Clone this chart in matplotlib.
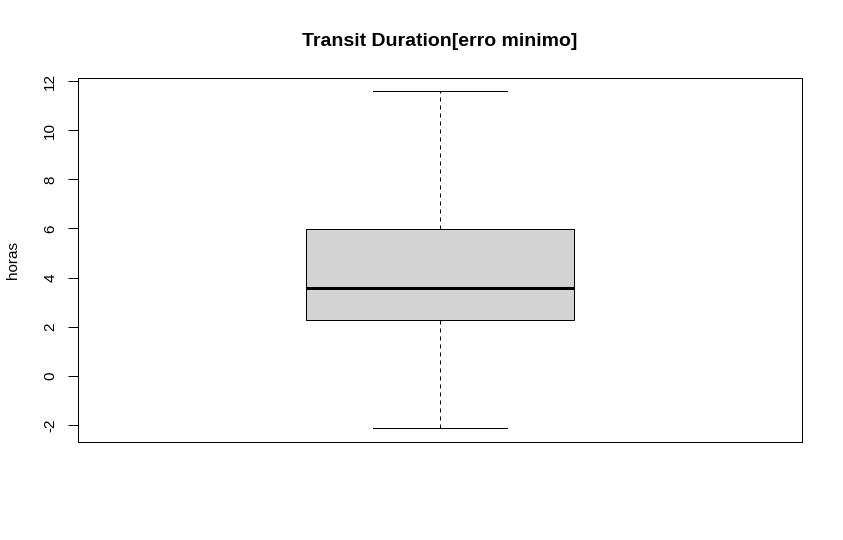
import matplotlib
matplotlib.use('Agg')
import matplotlib.pyplot as plt

plt.rcParams['font.family'] = ['Liberation Sans', 'DejaVu Sans']

# five-number summary (horas)
stat_names = ['whislo', 'q1', 'med', 'q3', 'whishi']
stat_values = [-2.13, 2.27, 3.59, 5.99, 11.58]
yticks = [-2, 0, 2, 4, 6, 8, 10, 12]

stats = dict(zip(stat_names, stat_values))
stats['fliers'] = []

fig = plt.figure(figsize=(8.43, 5.40), dpi=100)
ax = fig.add_axes([78 / 843, 1 - 441.5 / 540, 724 / 843, 363.5 / 540])

px = 0.72  # one pixel in points
ax.bxp([stats], positions=[1], widths=0.4, capwidths=0.2, patch_artist=True,
       boxprops=dict(facecolor='#d3d3d3', edgecolor='black', linewidth=px),
       medianprops=dict(color='black', linewidth=3 * px, solid_capstyle='butt'),
       whiskerprops=dict(color='black', linewidth=px, linestyle=(0, (4, 4))),
       capprops=dict(color='black', linewidth=px))

lo, hi = stats['whislo'], stats['whishi']
pad = (hi - lo) * 0.04
ax.set_xlim(0.46, 1.54)
ax.set_ylim(lo - pad, hi + pad)

ax.set_xticks([])
ax.set_yticks(yticks)
ax.set_yticklabels([str(t) for t in yticks], rotation=90, va='center', fontsize=11)
ax.tick_params(axis='y', length=7, width=px, pad=8)
for s in ax.spines.values():
    s.set_linewidth(px)

ax.set_ylabel('horas', fontsize=11, labelpad=17)
ax.set_title('Transit Duration[erro minimo]', fontsize=14, fontweight='bold', pad=23)

fig.savefig('out.png', dpi=100)
